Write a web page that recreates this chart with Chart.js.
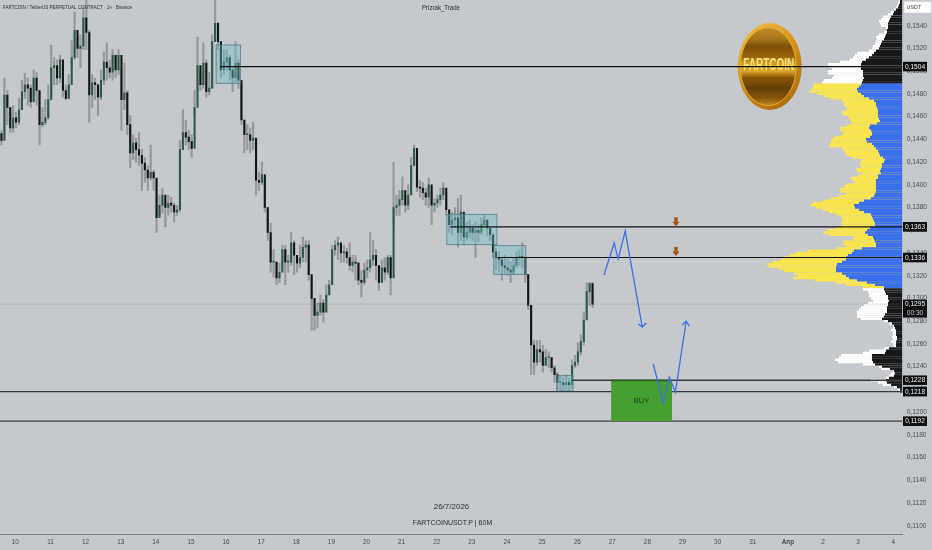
<!DOCTYPE html>
<html>
<head>
<meta charset="utf-8">
<title>FARTCOINUSDT.P</title>
<script src="https://cdn.jsdelivr.net/npm/chart.js@4/dist/chart.umd.min.js"></script>
<style>
  html, body { margin: 0; padding: 0; background: #c5c8cc; }
  #wrap { position: relative; width: 932px; height: 550px; overflow: hidden; }
  canvas { position: absolute; left: 0; top: 0; }
</style>
</head>
<body>
<div id="wrap">
  <canvas id="profile" width="932" height="550"></canvas>
  <canvas id="price" width="932" height="550"></canvas>
</div>
<script>
// all prices are in 1/10000 USDT, so 1504 means 0,1504

// candles, one every 2 hours, x is hours since 10 March 00:00
const firstHour = -9.5;
const hourStep = 2;
const firstOpen = 1445;
const closes = [
  1439,1479,1468,1450,1459,1455,1466,1482,1488,1485,
  1473,1494,1483,1453,1455,1459,1475,1503,1505,1494,
  1510,1483,1476,1488,1512,1536,1520,1522,1547,1534,
  1479,1490,1488,1477,1492,1508,1503,1499,1514,1501,
  1514,1475,1481,1453,1428,1437,1431,1426,1419,1413,
  1406,1411,1406,1371,1382,1391,1380,1384,1382,1376,
  1378,1431,1446,1442,1438,1432,1468,1505,1488,1507,
  1482,1485,1526,1542,1526,1501,1508,1512,1501,1494,
  1507,1492,1457,1444,1444,1439,1441,1404,1402,1409,
  1380,1358,1332,1332,1318,1323,1343,1332,1332,1349,
  1338,1331,1336,1345,1347,1321,1300,1285,1288,1296,
  1288,1303,1312,1343,1347,1349,1340,1341,1336,1329,
  1332,1331,1316,1314,1325,1327,1334,1338,1329,1314,
  1327,1323,1336,1318,1380,1382,1387,1395,1382,1391,
  1417,1432,1398,1397,1393,1389,1400,1382,1384,1387,
  1391,1397,1378,1365,1369,1371,1358,1376,1354,1358,
  1362,1358,1360,1358,1365,1369,1362,1356,1341,1336,
  1334,1329,1327,1325,1323,1329,1336,1337,1336,1321,
  1294,1259,1244,1255,1253,1241,1248,1248,1239,1233,
  1226,1226,1224,1226,1224,1241,1244,1253,1262,1281,
  1306,1313,1295
];
const highs = [
  1448,1494,1483,1468,1470,1464,1476,1492,1498,1494,
  1488,1501,1499,1482,1468,1475,1488,1523,1512,1510,
  1514,1497,1488,1497,1527,1552,1529,1532,1556,1563,
  1536,1497,1494,1488,1501,1517,1525,1510,1519,1514,
  1519,1501,1507,1483,1461,1444,1441,1446,1431,1424,
  1417,1435,1413,1404,1391,1397,1387,1391,1389,1384,
  1382,1439,1466,1457,1448,1444,1483,1530,1501,1525,
  1510,1499,1532,1563,1543,1523,1519,1519,1514,1503,
  1526,1510,1488,1457,1453,1450,1455,1439,1411,1420,
  1406,1380,1366,1343,1332,1331,1347,1347,1338,1358,
  1351,1338,1347,1354,1351,1351,1318,1299,1296,1303,
  1299,1312,1316,1347,1351,1354,1349,1347,1344,1349,
  1338,1338,1332,1325,1331,1334,1358,1351,1343,1329,
  1334,1336,1338,1338,1420,1391,1395,1407,1391,1400,
  1424,1435,1426,1404,1402,1397,1406,1394,1388,1391,
  1397,1402,1394,1378,1376,1380,1388,1391,1373,1367,
  1369,1365,1367,1365,1371,1373,1369,1362,1356,1344,
  1341,1336,1338,1334,1332,1336,1341,1343,1349,1336,
  1321,1294,1263,1263,1263,1259,1255,1253,1248,1241,
  1235,1231,1230,1233,1230,1246,1250,1261,1268,1288,
  1314,1314,1314
];
const lows = [
  1435,1444,1453,1446,1446,1450,1453,1466,1476,1470,
  1468,1475,1470,1435,1451,1453,1457,1479,1488,1488,
  1490,1477,1475,1476,1505,1510,1512,1503,1519,1519,
  1455,1468,1475,1461,1475,1488,1492,1494,1492,1494,
  1497,1448,1466,1444,1415,1422,1420,1417,1395,1402,
  1395,1404,1395,1358,1373,1375,1363,1373,1376,1367,
  1373,1376,1431,1435,1431,1424,1461,1483,1483,1485,
  1477,1479,1485,1526,1519,1494,1497,1501,1492,1482,
  1490,1485,1453,1428,1431,1428,1431,1391,1395,1400,
  1376,1351,1323,1319,1312,1314,1325,1312,1323,1329,
  1321,1323,1327,1332,1332,1316,1272,1272,1274,1285,
  1279,1288,1303,1312,1338,1334,1332,1332,1331,1325,
  1323,1316,1312,1301,1312,1318,1323,1329,1316,1307,
  1314,1316,1321,1303,1365,1373,1373,1382,1376,1378,
  1391,1417,1394,1389,1387,1382,1380,1365,1376,1380,
  1382,1387,1373,1358,1356,1362,1345,1351,1347,1351,
  1353,1351,1336,1350,1356,1362,1355,1351,1336,1325,
  1323,1316,1322,1320,1314,1321,1327,1329,1327,1314,
  1290,1233,1233,1241,1244,1235,1241,1239,1235,1226,
  1220,1218,1218,1220,1219,1221,1239,1241,1250,1259,
  1284,1294,1292
];

// time axis
const dayLabels = ["10","11","12","13","14","15","16","17","18","19","20","21","22","23","24","25","26","27","28","29","30","31","Апр","2","3","4"];

// price axis
const priceTicks = [1100,1120,1140,1160,1180,1200,1220,1240,1260,1280,1300,1320,1340,1360,1380,1400,1420,1440,1460,1480,1500,1520,1540];

// horizontal levels: price, hour where the line starts
const darkLevels = [1504, 1363, 1336];
const darkLevelStarts = [139.9, 297.2, 329.3];
const greyLevels = [1228, 1218, 1192];
const greyLevelStarts = [380.6, -10.5, -10.5];
const lastPrice = 1295;

// consolidation boxes
const boxHourFrom = [137.2, 294.9, 327, 370.1];
const boxHourTo = [153.8, 329.1, 348.9, 381.1];
const boxPriceTop = [1523, 1374, 1346.4, 1232];
const boxPriceBottom = [1489.3, 1347.3, 1321.2, 1218.5];

// buy zone
const buyHours = [407.2, 448.8];
const buyPrices = [1228, 1192];

// forecast path (blue)
const pathHoursA = [402.3, 409.3, 412.0, 416.8, 428.5];
const pathPricesA = [1320.6, 1348.8, 1334.6, 1359.3, 1274.8];
const headHoursA = [425.8, 428.5, 431.2];
const headPricesA = [1277.5, 1274.8, 1278.4];
const pathHoursB = [436.0, 442.8, 447.0, 451.1, 458.5];
const pathPricesB = [1242.3, 1208, 1230.8, 1217.6, 1280];
const headHoursB = [455.8, 458.5, 460.6];
const headPricesB = [1276.6, 1280, 1275.7];

// small brown arrows
const arrowHour = 451.5;
const arrowPrices = [1367.5, 1341.3];

// price tags on the axis
const tagPrices = [1504, 1363, 1336, 1228, 1218, 1192];

// volume profile rows, top row first, bottom row sits at profileBottom
const profileBottom = 1218;
const profileStep = 2;
const areaHigh = 1488;
const areaLow = 1310;
const profileTotal = [
  3,4,5,6,8,11,14,19,21,23,22,21,16,15,18,23,26,25,26,27,29,30,33,45,47,49,52,62,74,72,
  70,74,74,68,70,78,80,88,89,90,93,85,78,72,60,58,58,55,55,60,59,54,52,52,50,55,62,62,58,60,
  67,70,71,72,73,60,58,57,55,50,40,41,42,41,46,45,40,
  44,51,49,47,56,58,62,62,56,63,71,79,89,92,86,79,73,66,61,59,60,61,61,66,74,79,73,48,49,59,
  59,56,66,94,106,113,117,121,129,135,133,123,118,108,104,109,87,66,56,39,
  39,34,33,
  33,31,29,34,38,41,43,45,45,45,41,18,13,9,9,11,9,9,10,9,11,9,8,18,33,39,61,63,67,64,
  39,23,21,9,11,13,16,31,24,19,8,4,3
];
const profileUp = [
  2,2,3,4,6,8,9,11,12,13,14,14,14,15,15,16,17,18,20,21,22,23,26,28,30,33,36,40,41,41,
  41,39,39,39,38,39,40,41,43,45,44,41,38,33,28,26,26,25,24,24,24,24,23,22,25,32,33,31,30,30,
  32,36,35,30,28,26,24,23,22,19,17,18,20,20,21,22,21,
  24,24,26,26,26,26,26,26,27,28,31,38,43,48,47,43,38,31,30,29,28,27,27,32,35,37,34,29,28,27,
  26,26,40,48,50,54,56,56,60,65,66,66,66,60,56,53,45,35,27,18,
  18,17,16,
  14,14,13,14,14,15,15,15,17,18,20,14,10,8,7,6,6,6,5,5,6,6,6,13,16,17,30,30,30,29,
  27,20,12,8,7,8,13,16,15,11,5,2,2
];

// coin sticker position
const coinHour = 515.6;
const coinPrice = 1504;

const BG_TEXT = "#4a4c50";
const FONT = '"Liberation Sans", Arial, sans-serif';
const opens = closes.map((c, i) => (i ? closes[i - 1] : firstOpen));
const candleHours = closes.map((c, i) => firstHour + i * hourStep);
const dayHours = dayLabels.map((d, i) => i * 24);
const yMin = 1092.7;
const yMax = 1562.6;

function levelLine(price, from, color, width, dash) {
  return {
    type: "line",
    data: [{ x: from, y: price }, { x: 607, y: price }],
    borderColor: color,
    borderWidth: width,
    borderDash: dash || [],
    pointRadius: 0,
    tension: 0,
  };
}

function pathLine(hours, prices) {
  return {
    type: "line",
    data: hours.map((x, i) => ({ x: x, y: prices[i] })),
    borderColor: "#3d72e8",
    borderWidth: 1.3,
    pointRadius: 0,
    tension: 0,
  };
}

const datasets = [
  {
    data: candleHours.map((x, i) => ({ x: x, y: [lows[i], highs[i]] })),
    backgroundColor: "#95989c",
    barThickness: 1.5,
    grouped: false,
  },
  {
    data: candleHours.map((x, i) => ({ x: x, y: [opens[i], closes[i]] })),
    backgroundColor: closes.map((c, i) => (c >= opens[i] ? "#2b5a48" : "#121416")),
    barThickness: 1.4,
    minBarLength: 1,
    grouped: false,
  },
  levelLine(lastPrice, -10.5, "rgba(120,122,126,0.6)", 0.8, [1, 1]),
];
darkLevels.forEach((p, i) => datasets.push(levelLine(p, darkLevelStarts[i], "#101214", 1.1)));
greyLevels.forEach((p, i) => datasets.push(levelLine(p, greyLevelStarts[i], "#3a3c3f", 1.4)));
const lastLevelIndex = datasets.length - 1;
datasets.push(pathLine(pathHoursA, pathPricesA));
datasets.push(pathLine(headHoursA, headPricesA));
datasets.push(pathLine(pathHoursB, pathPricesB));
datasets.push(pathLine(headHoursB, headPricesB));
// lower order is drawn later, keep array order as paint order
datasets.forEach((d, i) => { d.order = datasets.length - i; });

function drawBoxes(chart) {
  const { ctx, scales } = chart;
  ctx.save();
  boxHourFrom.forEach((h, i) => {
    const x1 = scales.x.getPixelForValue(h);
    const x2 = scales.x.getPixelForValue(boxHourTo[i]);
    const y1 = scales.y.getPixelForValue(boxPriceTop[i]);
    const y2 = scales.y.getPixelForValue(boxPriceBottom[i]);
    ctx.fillStyle = "rgba(110,190,200,0.42)";
    ctx.fillRect(x1, y1, x2 - x1, y2 - y1);
    ctx.strokeStyle = "#4f7f86";
    ctx.lineWidth = 0.8;
    ctx.strokeRect(x1, y1, x2 - x1, y2 - y1);
  });
  ctx.restore();
}

function drawCoin(chart) {
  const { ctx, scales } = chart;
  const cx = scales.x.getPixelForValue(coinHour);
  const cy = scales.y.getPixelForValue(coinPrice);
  ctx.save();
  const rim = ctx.createLinearGradient(cx - 30, cy - 42, cx + 30, cy + 42);
  rim.addColorStop(0, "#f2c04a");
  rim.addColorStop(0.5, "#d08e12");
  rim.addColorStop(1, "#a8660a");
  ctx.fillStyle = rim;
  ctx.beginPath();
  ctx.ellipse(cx, cy, 32, 43.5, 0, 0, Math.PI * 2);
  ctx.fill();
  const face = ctx.createLinearGradient(cx, cy - 39, cx, cy + 39);
  face.addColorStop(0, "#c08a24");
  face.addColorStop(0.14, "#a9781c");
  face.addColorStop(0.24, "#7d5009");
  face.addColorStop(0.38, "#9a660d");
  face.addColorStop(0.45, "#d69d22");
  face.addColorStop(0.56, "#dca62a");
  face.addColorStop(0.64, "#8a5709");
  face.addColorStop(0.78, "#653e06");
  face.addColorStop(0.9, "#82530a");
  face.addColorStop(1, "#c08a24");
  ctx.fillStyle = face;
  ctx.beginPath();
  ctx.ellipse(cx - 1.5, cy, 28, 39, 0, 0, Math.PI * 2);
  ctx.fill();
  ctx.strokeStyle = "#e9b63f";
  ctx.lineWidth = 0.8;
  ctx.stroke();
  ctx.font = "bold 16px " + FONT;
  ctx.textAlign = "center";
  ctx.textBaseline = "middle";
  ctx.fillStyle = "#f5e77e";
  ctx.fillText("FARTCOIN", cx - 1, cy - 1, 51);
  ctx.restore();
}

function drawBuyZone(chart) {
  const { ctx, scales } = chart;
  const x1 = scales.x.getPixelForValue(buyHours[0]);
  const x2 = scales.x.getPixelForValue(buyHours[1]);
  const y1 = scales.y.getPixelForValue(buyPrices[0]);
  const y2 = scales.y.getPixelForValue(buyPrices[1]);
  ctx.save();
  ctx.fillStyle = "#45a031";
  ctx.fillRect(x1, y1, x2 - x1, y2 - y1);
  ctx.fillStyle = "#2c5f22";
  ctx.fillRect(x1, y1 - 0.5, x2 - x1, 1.6);
  ctx.fillStyle = "#1f3d1a";
  ctx.font = "7.5px " + FONT;
  ctx.textAlign = "center";
  ctx.textBaseline = "middle";
  ctx.fillText("BUY", (x1 + x2) / 2, (y1 + y2) / 2);
  ctx.restore();
}

function drawArrows(chart) {
  const { ctx, scales } = chart;
  const x = scales.x.getPixelForValue(arrowHour);
  ctx.save();
  ctx.fillStyle = "#a8540f";
  arrowPrices.forEach((p) => {
    const y = scales.y.getPixelForValue(p);
    ctx.beginPath();
    ctx.moveTo(x - 1.7, y - 4.5);
    ctx.lineTo(x + 1.7, y - 4.5);
    ctx.lineTo(x + 1.7, y);
    ctx.lineTo(x + 3.6, y);
    ctx.lineTo(x, y + 4.5);
    ctx.lineTo(x - 3.6, y);
    ctx.lineTo(x - 1.7, y);
    ctx.closePath();
    ctx.fill();
  });
  ctx.restore();
}

function drawTags(chart) {
  const { ctx, scales } = chart;
  const left = chart.chartArea.right + 0.7;
  ctx.save();
  ctx.textAlign = "center";
  ctx.textBaseline = "middle";
  ctx.font = "6.6px " + FONT;
  tagPrices.forEach((p) => {
    const y = scales.y.getPixelForValue(p);
    ctx.fillStyle = "#0d0e10";
    ctx.fillRect(left, y - 4.8, 24, 9.6);
    ctx.fillStyle = "#f0f0f0";
    ctx.fillText("0," + p, left + 12, y + 0.3);
  });
  const ly = scales.y.getPixelForValue(lastPrice);
  ctx.fillStyle = "#0d0e10";
  ctx.fillRect(left, ly - 4.5, 24, 18);
  ctx.fillStyle = "#f0f0f0";
  ctx.fillText("0," + lastPrice, left + 12, ly);
  ctx.fillStyle = "#c8c8c8";
  ctx.fillText("00:30", left + 12, ly + 8.6);
  // currency box
  ctx.fillStyle = "#ffffff";
  ctx.fillRect(left + 1.3, 1.7, 26.6, 11);
  ctx.fillStyle = "#3c3e42";
  ctx.font = "5.4px " + FONT;
  ctx.textAlign = "left";
  ctx.fillText("USDT", left + 3.6, 7.6);
  ctx.restore();
}

function drawTexts(chart) {
  const { ctx } = chart;
  ctx.save();
  ctx.textBaseline = "middle";
  ctx.fillStyle = "#2c2e31";
  ctx.font = "5.8px " + FONT;
  ctx.textAlign = "left";
  ctx.fillText("FARTCOIN / TetherUS PERPETUAL CONTRACT · 1ч · Binance", 3, 7.3, 129);
  ctx.textAlign = "center";
  ctx.font = "7.4px " + FONT;
  ctx.fillText("Prizrak_Trade", 441, 8, 38);
  ctx.font = "8px " + FONT;
  ctx.fillText("26/7/2026", 451.5, 506.7);
  ctx.font = "7px " + FONT;
  ctx.fillText("FARTCOINUSDT.P | 60M", 452.5, 522.7);
  ctx.restore();
}

const overlays = {
  id: "overlays",
  afterDatasetDraw(chart, args) {
    if (args.index === 1) {
      drawCoin(chart);
      drawBoxes(chart);
    }
    if (args.index === lastLevelIndex) {
      drawBuyZone(chart);
      drawArrows(chart);
    }
  },
  afterDraw(chart) {
    drawTags(chart);
    drawTexts(chart);
  },
};

new Chart(document.getElementById("price"), {
  type: "bar",
  data: { datasets: datasets },
  plugins: [overlays],
  options: {
    responsive: false,
    animation: false,
    events: [],
    plugins: { legend: { display: false }, tooltip: { enabled: false } },
    scales: {
      x: {
        type: "linear",
        offset: false,
        min: -10.5,
        max: 606.2,
        grid: { display: false, offset: false, drawTicks: false },
        border: { display: true, color: "#7d8084", width: 1 },
        afterBuildTicks(scale) {
          scale.ticks = dayHours.map((h) => ({ value: h }));
        },
        afterFit(scale) {
          scale.height = 16;
          scale.paddingLeft = 0;
          scale.paddingRight = 0;
        },
        ticks: {
          autoSkip: false,
          maxRotation: 0,
          padding: 4,
          color: BG_TEXT,
          font: (c) => ({ family: FONT, size: 6.4, weight: c.index === 22 ? "bold" : "normal" }),
          callback: (v, i) => dayLabels[i],
        },
      },
      y: {
        position: "right",
        min: yMin,
        max: yMax,
        grid: { display: false, drawTicks: false },
        border: { display: false },
        afterBuildTicks(scale) {
          scale.ticks = priceTicks.map((p) => ({ value: p }));
        },
        afterFit(scale) {
          scale.width = 29.7;
          scale.paddingTop = 0;
          scale.paddingBottom = 0;
        },
        ticks: {
          autoSkip: false,
          padding: 4.5,
          color: BG_TEXT,
          font: { family: FONT, size: 6.6 },
          callback: (v) => "0," + v,
        },
      },
    },
  },
});

const rowPrices = profileTotal.map((v, i) => profileBottom + (profileTotal.length - 1 - i) * profileStep);
const inArea = (p) => p <= areaHigh && p >= areaLow;

new Chart(document.getElementById("profile"), {
  type: "bar",
  data: {
    datasets: [
      {
        data: profileUp.map((v, i) => ({ x: v, y: rowPrices[i] })),
        backgroundColor: rowPrices.map((p) => (inArea(p) ? "#3a6ff0" : "#17181a")),
        barThickness: 1.75,
        grouped: false,
        order: 1,
      },
      {
        data: profileTotal.map((v, i) => ({ x: v, y: rowPrices[i] })),
        backgroundColor: rowPrices.map((p) => (inArea(p) ? "#fbe54e" : "#ffffff")),
        barThickness: 1.75,
        grouped: false,
        order: 2,
      },
    ],
  },
  options: {
    indexAxis: "y",
    responsive: false,
    animation: false,
    events: [],
    layout: { padding: { right: 29.7, bottom: 16 } },
    plugins: { legend: { display: false }, tooltip: { enabled: false } },
    scales: {
      x: { type: "linear", display: false, reverse: true, min: 0, max: 902.3 },
      y: { type: "linear", display: false, offset: false, min: yMin, max: yMax },
    },
  },
});
</script>
</body>
</html>
